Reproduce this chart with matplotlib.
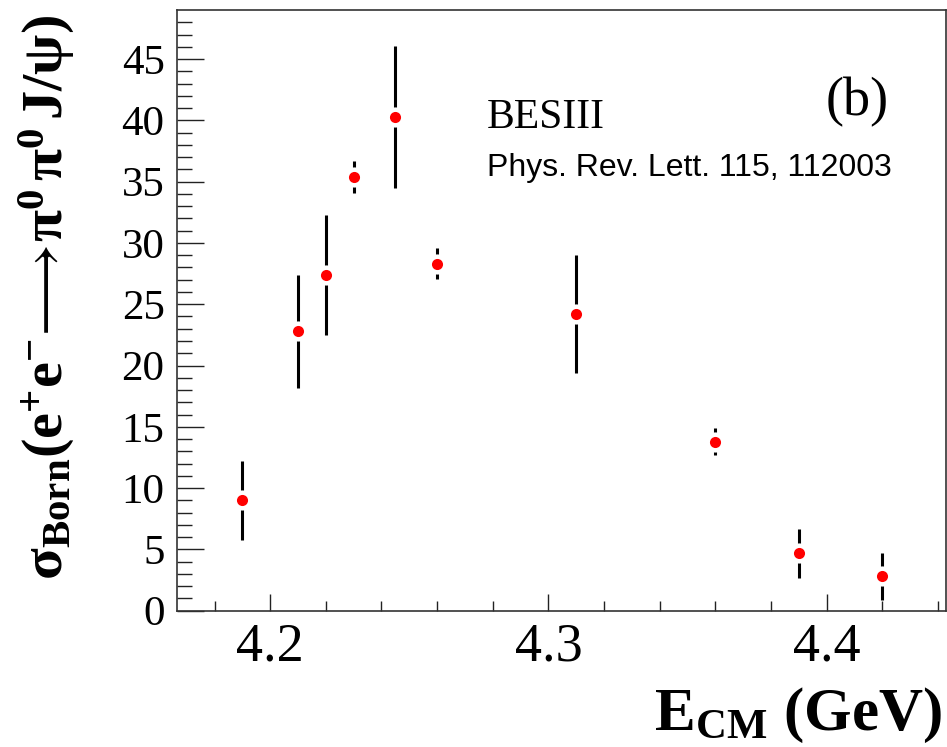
import matplotlib
matplotlib.use("Agg")
import matplotlib.pyplot as plt
import numpy as np

# Data
energy = [4.19, 4.21, 4.22, 4.23, 4.245, 4.26, 4.31, 4.36, 4.39, 4.42]
sigma = [9.0, 22.8, 27.4, 35.4, 40.3, 28.3, 24.2, 13.8, 4.7, 2.8]
sigma_err = [3.2, 4.6, 4.9, 1.3, 5.8, 1.25, 4.8, 1.1, 2.0, 1.9]

x_ticks = [4.2, 4.3, 4.4]
x_ticklabels = ["4.2", "4.3", "4.4"]
y_ticks = [0, 5, 10, 15, 20, 25, 30, 35, 40, 45]
y_ticklabels = [str(v) for v in y_ticks]

plt.rcParams['mathtext.fontset'] = 'custom'
plt.rcParams['mathtext.rm'] = 'Liberation Serif'
plt.rcParams['mathtext.it'] = 'Liberation Serif:italic'
plt.rcParams['mathtext.bf'] = 'Liberation Serif:bold'
plt.rcParams['mathtext.fallback'] = 'stix'

W, H = 947, 747
fig = plt.figure(figsize=(W / 100, H / 100), dpi=100)
ax = fig.add_axes([177 / W, 1 - 610.7 / H, (945.7 - 177) / W, (610.7 - 10) / H])

ax.errorbar(energy, sigma, yerr=sigma_err, fmt='none', ecolor='black',
            elinewidth=2.2, capsize=0, zorder=2)
ax.plot(energy, sigma, linestyle='none', marker='o', markersize=14.5,
        markerfacecolor='white', markeredgecolor='none', zorder=3)
ax.plot(energy, sigma, linestyle='none', marker='o', markersize=8.0,
        markerfacecolor='#ff0000', markeredgecolor='none', zorder=4)

ax.set_xlim(4.1665, 4.4428)
ax.set_ylim(0, 49)
ax.set_xticks(x_ticks)
ax.set_xticklabels(x_ticklabels)
ax.set_xticks(np.arange(4.18, 4.441, 0.02), minor=True)
ax.set_yticks(y_ticks)
ax.set_yticklabels(y_ticklabels)
ax.set_yticks(np.arange(0, 49, 1), minor=True)

ax.tick_params(axis='x', which='major', direction='in', length=12.2, width=1.0,
               labelsize=39, pad=8, top=False, color='#222222')
ax.tick_params(axis='x', which='minor', direction='in', length=7.2, width=1.0,
               top=False, color='#222222')
ax.tick_params(axis='y', which='major', direction='in', length=19.4, width=1.0,
               labelsize=31, pad=9, right=False, color='#222222')
ax.tick_params(axis='y', which='minor', direction='in', length=10.8, width=1.0,
               right=False, color='#222222')
for lab in ax.get_xticklabels() + ax.get_yticklabels():
    lab.set_fontfamily('Liberation Serif')
for sp in ax.spines.values():
    sp.set_color('#333333')
    sp.set_linewidth(1.2)

fig.text(487 / W, 1 - 118 / H, "BESIII", fontsize=30,
         fontfamily='Liberation Serif', va='center', ha='left')
fig.text(487 / W, 1 - 168 / H, "Phys. Rev. Lett. 115, 112003", fontsize=23,
         fontfamily='Liberation Sans', va='center', ha='left')
fig.text(857 / W, 1 - 102 / H, "(b)", fontsize=39,
         fontfamily='Liberation Serif', va='center', ha='center')

fig.text(942 / W, 1 - 730 / H, r'$\mathbf{E_{CM}}$ (GeV)', fontsize=44,
         fontfamily='Liberation Serif', fontweight='bold', ha='right', va='baseline')
fig.text(47 / W, 1 - 298 / H,
         r'$\mathbf{\sigma_{Born}(e^{+}e^{-}}\!\longrightarrow\!\mathbf{\pi^{0}\,\pi^{0}\,J/\psi)}$',
         fontsize=42, rotation=90, ha='center', va='center')

fig.savefig("out.png", dpi=100)
